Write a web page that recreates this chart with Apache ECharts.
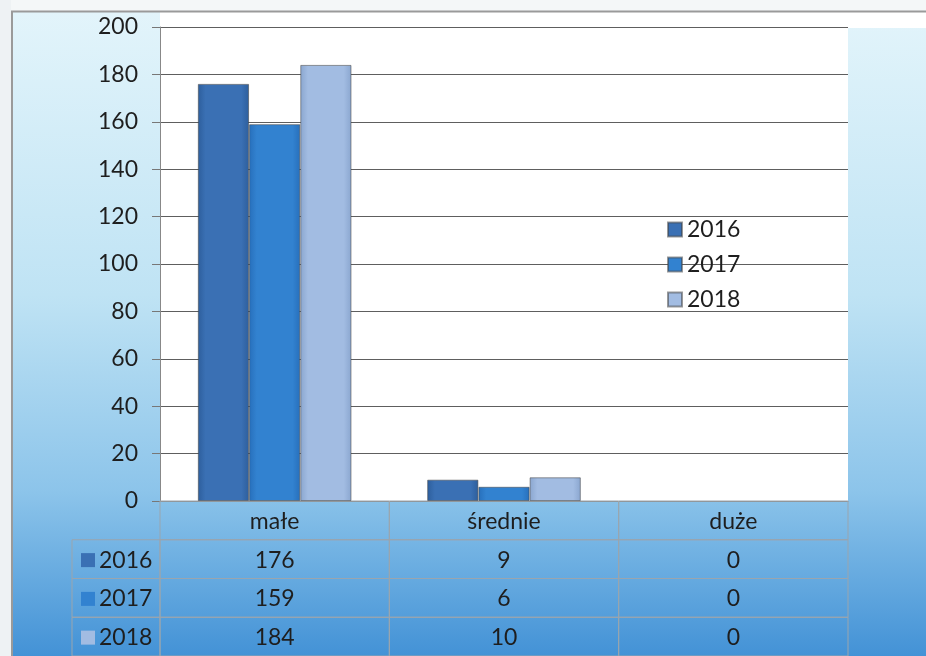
<!DOCTYPE html>
<html>
<head>
<meta charset="utf-8">
<script src="https://cdn.jsdelivr.net/npm/echarts@6/dist/echarts.min.js"></script>
<style>
  html, body { margin: 0; padding: 0; }
  #chart { width: 926px; height: 656px; }
</style>
</head>
<body>
<div id="chart"></div>
<script>
// dane wykresu
var categories = ['małe', 'średnie', 'duże'];
var years = ['2016', '2017', '2018'];
var values2016 = [176, 9, 0];
var values2017 = [159, 6, 0];
var values2018 = [184, 10, 0];
var yTicks = [0, 20, 40, 60, 80, 100, 120, 140, 160, 180, 200];

var FONT = 'Lato';
var FSIZE = 23;
var LINE = '#9aa5ae';
var seriesValues = [values2016, values2017, values2018];

// kolory serii (efekt "wypukly" jak w Excelu)
function barColor(edge, mid) {
  return {
    type: 'linear', x: 0, y: 0, x2: 1, y2: 0,
    colorStops: [{offset: 0, color: edge}, {offset: 0.15, color: mid}, {offset: 0.85, color: mid}, {offset: 1, color: edge}]
  };
}
var colors = [
  barColor('#2d5e9c', '#3a70b4'),
  barColor('#276fbb', '#3282d0'),
  barColor('#8aa6cf', '#a2bce2')
];
var keyColors = ['#3a70b4', '#3282d0', '#a2bce2'];

// komorki tabeli danych
var cellData = [], cellText = [];
for (var c = 0; c < categories.length; c++) {
  cellData.push([c, 0]);
  cellText.push(categories[c]);
  for (var r = 0; r < years.length; r++) {
    cellData.push([c, r + 1]);
    cellText.push(String(seriesValues[r][c]));
  }
}
var rowData = [];
for (var r2 = 0; r2 < years.length; r2++) rowData.push([0, r2 + 1]);

function cellItem(params, api) {
  var p = api.coord([api.value(0), api.value(1)]);
  var s = api.size([1, 1]);
  return {
    type: 'group',
    children: [{
      type: 'rect',
      shape: {x: p[0] - s[0] / 2, y: p[1] - s[1] / 2, width: s[0], height: s[1]},
      style: {fill: 'none', stroke: LINE, lineWidth: 1}
    }, {
      type: 'text',
      style: {text: cellText[params.dataIndex], x: p[0], y: p[1] + 1, align: 'center', verticalAlign: 'middle',
        font: FSIZE + 'px ' + FONT, fill: '#1e1e1e'}
    }]
  };
}

var keyColW = 88;
function rowHeaderItem(params, api) {
  var p = api.coord([api.value(0), api.value(1)]);
  var s = api.size([1, 1]);
  var x0 = p[0] - s[0] / 2 - keyColW;
  return {
    type: 'group',
    children: [{
      type: 'rect',
      shape: {x: x0, y: p[1] - s[1] / 2, width: keyColW, height: s[1]},
      style: {fill: 'none', stroke: LINE, lineWidth: 1}
    }, {
      type: 'rect',
      shape: {x: x0 + 9, y: p[1] - 6, width: 14, height: 14},
      style: {fill: keyColors[params.dataIndex]}
    }, {
      type: 'text',
      style: {text: years[params.dataIndex], x: x0 + 27, y: p[1] + 1, align: 'left', verticalAlign: 'middle',
        font: FSIZE + 'px ' + FONT, fill: '#1e1e1e'}
    }]
  };
}

var chart = echarts.init(document.getElementById('chart'));
var series = [];
for (var i = 0; i < years.length; i++) {
  series.push({
    name: years[i], type: 'bar', xAxisIndex: 0, yAxisIndex: 0,
    data: seriesValues[i].map(function (v) {
      return v === 0 ? {value: v, itemStyle: {borderWidth: 0}} : v;
    }),
    barGap: '0%', barCategoryGap: '33%',
    itemStyle: {color: colors[i], borderColor: 'rgba(70,70,70,0.55)', borderWidth: 1}
  });
}
series.push({type: 'custom', xAxisIndex: 1, yAxisIndex: 1, data: cellData, renderItem: cellItem, silent: true});
series.push({type: 'custom', xAxisIndex: 1, yAxisIndex: 1, data: rowData, renderItem: rowHeaderItem, silent: true});

chart.setOption({
  animation: false,
  backgroundColor: {
    type: 'linear', x: 0, y: 0, x2: 0, y2: 1,
    colorStops: [
      {offset: 0, color: '#e4f5fb'},
      {offset: 0.45, color: '#bfe3f4'},
      {offset: 0.75, color: '#8cc4ea'},
      {offset: 1, color: '#4392d6'}
    ]
  },
  graphic: [
    {type: 'rect', left: 0, top: 0, shape: {width: 926, height: 11}, style: {fill: '#f4f7f8'}, z: -10},
    {type: 'rect', left: 0, top: 0, shape: {width: 11, height: 656}, style: {fill: '#eef2f4'}, z: -10},
    {type: 'rect', left: 160, top: 12, shape: {width: 766, height: 16}, style: {fill: '#ffffff'}, z: -10},
    {type: 'line', shape: {x1: 11, y1: 11.5, x2: 926, y2: 11.5}, style: {stroke: '#9a9a9a', lineWidth: 2}},
    {type: 'line', shape: {x1: 12, y1: 11, x2: 12, y2: 656}, style: {stroke: '#9a9a9a', lineWidth: 2}}
  ],
  legend: {
    orient: 'vertical', left: 662, top: 212, itemGap: 10,
    itemWidth: 14, itemHeight: 14, icon: 'rect',
    textStyle: {fontFamily: FONT, fontSize: FSIZE, color: '#1e1e1e', lineHeight: 25},
    data: years
  },
  grid: [
    {left: 160, right: 78, top: 27, bottom: 155, show: true, backgroundColor: '#ffffff', borderWidth: 0},
    {left: 160, right: 78, top: 501, height: 160}
  ],
  xAxis: [
    {gridIndex: 0, type: 'category', data: categories,
      axisLine: {show: true, lineStyle: {color: '#888'}}, axisTick: {show: false}, axisLabel: {show: false}},
    {gridIndex: 1, type: 'category', data: categories, show: false}
  ],
  yAxis: [
    {gridIndex: 0, type: 'value', min: yTicks[0], max: yTicks[yTicks.length - 1], interval: 20,
      axisLine: {show: true, lineStyle: {color: '#888'}},
      axisTick: {show: true, length: 8, lineStyle: {color: '#777'}},
      axisLabel: {fontFamily: FONT, fontSize: FSIZE, color: '#1e1e1e', margin: 22},
      splitLine: {lineStyle: {color: '#5e5e5e', width: 1}}},
    {gridIndex: 1, type: 'category', data: [''].concat(years), inverse: true, show: false}
  ],
  series: series
});
</script>
</body>
</html>
